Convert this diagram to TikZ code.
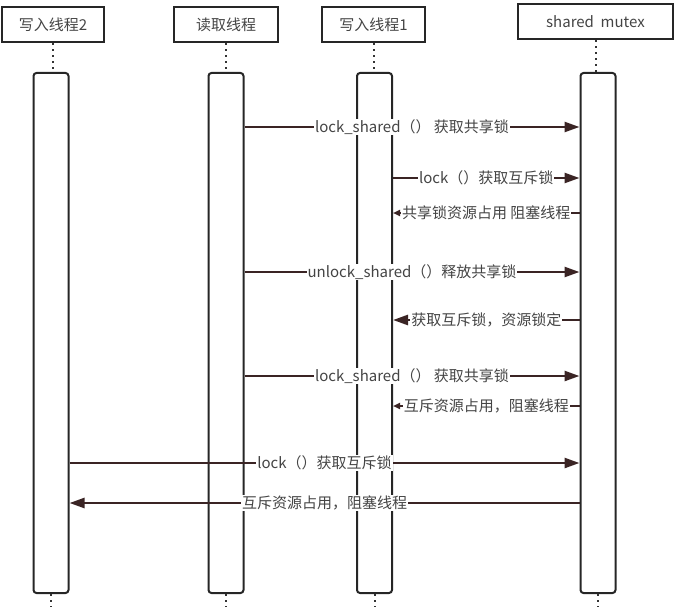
\documentclass[tikz,border=0pt]{standalone}
\usepackage{fontspec}
\newfontfamily\cjk{Noto Sans CJK SC}
\definecolor{seqline}{RGB}{58,36,36}
\definecolor{seqtext}{RGB}{68,68,68}
\usetikzlibrary{arrows.meta,positioning}

\begin{document}
\begin{tikzpicture}[
  x=1pt,y=-1pt,
  every node/.style={font=\cjk\fontsize{15}{18}\selectfont,text=seqtext},
  headbox/.style={draw=black!85,line width=2.4pt,minimum height=35pt,inner sep=2pt},
  actbar/.style={draw=black!85,line width=2pt,rounded corners=3pt,minimum width=35pt,
                 minimum height=520pt,inner sep=0pt},
  life/.style={line width=2pt,black!80,dash pattern=on 2pt off 4pt},
  msg/.style={draw=seqline,line width=2.5pt,-{Triangle[length=15pt,width=10pt]}},
  back/.style={draw=seqline,line width=2.5pt,-{Triangle[length=7pt,width=6pt]}},
  lbl/.style={fill=white,inner sep=1pt},
]
  \useasboundingbox (0,0) rectangle (676,607);

  % Participants
  \node[headbox,minimum width=102pt] (w2) at (53,24.5) {写入线程2};
  \node[headbox,minimum width=104pt] (rd) at (226,24.5) {读取线程};
  \node[headbox,minimum width=103pt] (w1) at (373.5,24.5) {写入线程1};
  \node[headbox,minimum width=155pt] (mx) at (595.5,21.5) {shared\ \ mutex};

  % Activation bars
  \node[actbar] (bw2) at (51,333) {};
  \node[actbar] (brd) at (226,333) {};
  \node[actbar] (bw1) at (374.5,333) {};
  \node[actbar] (bmx) at (598,333) {};

  % Lifelines
  \coordinate (bot) at (0,607);
  \foreach \h/\b in {w2/bw2,rd/brd,w1/bw1,mx/bmx} {
    \draw[life] (\h.south) -- (\h.south |- \b.north);
    \draw[life] (\b.south) -- (\b.south |- bot);
  }

  % Messages
  \coordinate (m1) at (0,127);
  \coordinate (m2) at (0,178);
  \coordinate (m3) at (0,213);
  \coordinate (m4) at (0,272);
  \coordinate (m5) at (0,320);
  \coordinate (m6) at (0,376);
  \coordinate (m7) at (0,406);
  \coordinate (m8) at (0,463);
  \coordinate (m9) at (0,503);

  \draw[msg] (brd.east |- m1) -- node[lbl] {lock\_shared（） 获取共享锁} (bmx.west |- m1);
  \draw[msg] (bw1.east |- m2) -- node[lbl] {lock（）获取互斥锁} (bmx.west |- m2);
  \draw[back] (bmx.west |- m3) -- node[lbl] {共享锁资源占用 阻塞线程} (bw1.east |- m3);
  \draw[msg] (brd.east |- m4) -- node[lbl] {unlock\_shared（）释放共享锁} (bmx.west |- m4);
  \draw[msg] (bmx.west |- m5) -- node[lbl] {获取互斥锁，资源锁定} (bw1.east |- m5);
  \draw[msg] (brd.east |- m6) -- node[lbl] {lock\_shared（） 获取共享锁} (bmx.west |- m6);
  \draw[back] (bmx.west |- m7) -- node[lbl] {互斥资源占用，阻塞线程} (bw1.east |- m7);
  \draw[msg] (bw2.east |- m8) -- node[lbl] {lock（）获取互斥锁} (bmx.west |- m8);
  \draw[msg] (bmx.west |- m9) -- node[lbl] {互斥资源占用，阻塞线程} (bw2.east |- m9);
\end{tikzpicture}
\end{document}
